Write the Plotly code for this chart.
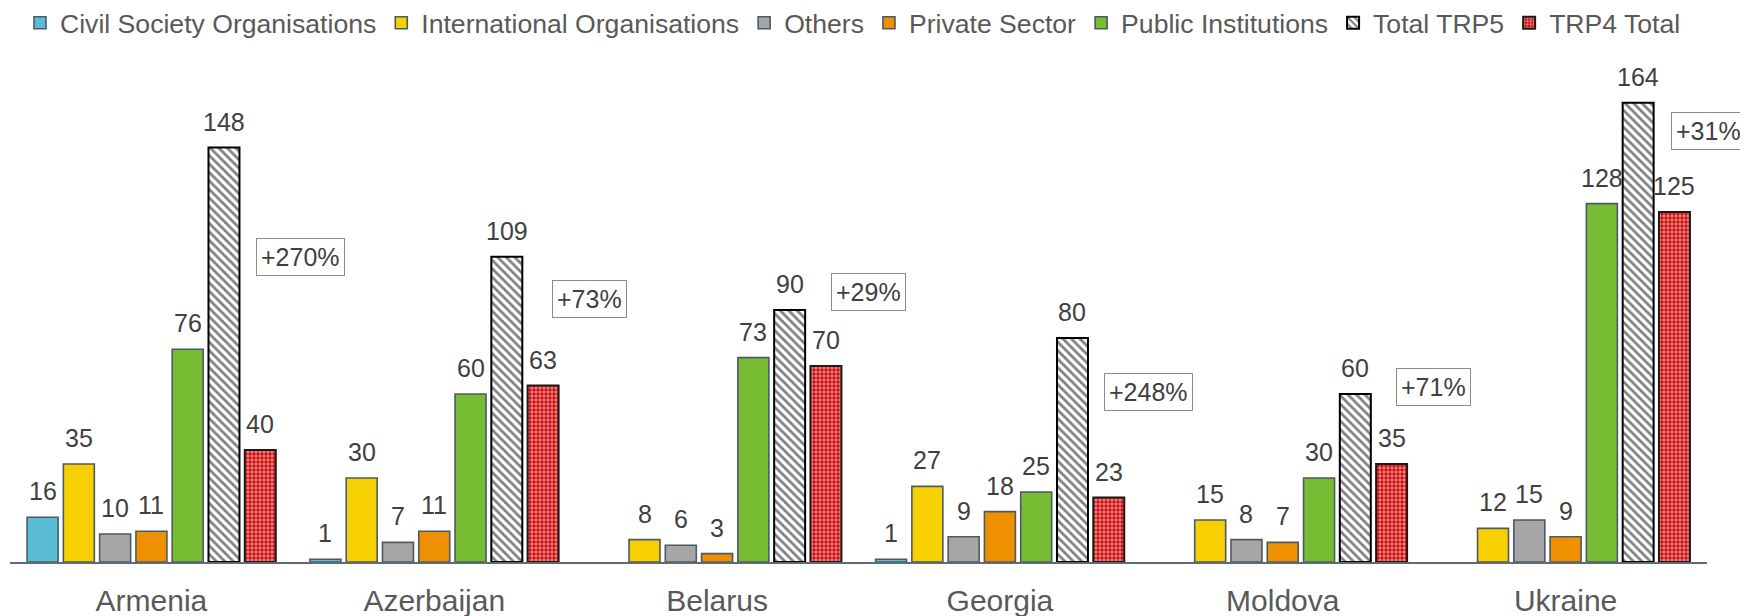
import plotly.graph_objects as go

# ---------------- data ----------------
countries = ["Armenia", "Azerbaijan", "Belarus", "Georgia", "Moldova", "Ukraine"]
series_names = ["Civil Society Organisations", "International Organisations", "Others",
                "Private Sector", "Public Institutions", "Total TRP5", "TRP4 Total"]
civil_society = [16, 1, None, 1, None, None]
international = [35, 30, 8, 27, 15, 12]
others = [10, 7, 6, 9, 8, 15]
private_sector = [11, 11, 3, 18, 7, 9]
public_inst = [76, 60, 73, 25, 30, 128]
total_trp5 = [148, 109, 90, 80, 60, 164]
trp4_total = [40, 63, 70, 23, 35, 125]
pct_labels = ["+270%", "+73%", "+29%", "+248%", "+71%", "+31%"]

series_values = [civil_society, international, others, private_sector,
                 public_inst, total_trp5, trp4_total]

# ---------------- layout / style ----------------
# the page body adds an 8px margin, so the figure origin sits at (8, 8) in the window
W, H = 1740, 608
ML, MR, MT, MB = 2, 41, 50, 54
BARGAP = 0.102
GROUPGAP = 0.146
YMAX = 180
FONT = "Liberation Sans, Arial, sans-serif"

fills = ["#5BBCD6", "#F6D000", "#A6A6A6", "#EE9000", "#77BC32", "white", "#D00000"]
line_cols = ["#4B5A66"] * 5 + ["#000000", "#1a1a1a"]
line_w = [1.6] * 5 + [2, 2]
patterns = [None] * 5 + [
    dict(shape="\\", fgcolor="#000000", bgcolor="white", size=6, solidity=0.45),
    dict(shape=".", fgcolor="white", bgcolor="#D00000", size=4, solidity=0.55),
]

# percentage box positions (layout only)
pct_dx = [149, 155, 151, 149, 151, 143]
pct_y = [109, 94, 96.4, 60.7, 62.5, 154]

fig = go.Figure()
for k, (name, vals) in enumerate(zip(series_names, series_values)):
    marker = dict(color=fills[k], line=dict(color=line_cols[k], width=line_w[k]))
    if patterns[k] is not None:
        marker["pattern"] = patterns[k]
    fig.add_trace(go.Bar(name=name, x=countries, y=vals, marker=marker,
                         hoverinfo="x+y+name"))

plot_w = W - ML - MR
cat_w = plot_w / len(countries)
slot = cat_w * (1 - BARGAP) / len(series_names)

annotations = []
for k, vals in enumerate(series_values):
    for c, v in zip(countries, vals):
        if v is None:
            continue
        annotations.append(dict(
            x=c, y=v, xref="x", yref="y", text=str(v), showarrow=False,
            yanchor="bottom", xanchor="center",
            xshift=(k - 3) * slot, yshift=10,
            font=dict(family=FONT, size=25, color="#404040"),
        ))

for c, lab, dx, yy in zip(countries, pct_labels, pct_dx, pct_y):
    annotations.append(dict(
        x=c, y=yy, xref="x", yref="y", text=lab, showarrow=False,
        xanchor="center", yanchor="middle", xshift=dx,
        bordercolor="#8C8C8C", borderwidth=1, borderpad=4, bgcolor="white",
        font=dict(family=FONT, size=25, color="#404040"),
    ))

fig.update_layout(
    width=W, height=H,
    margin=dict(l=ML, r=MR, t=MT, b=MB, autoexpand=False),
    paper_bgcolor="white", plot_bgcolor="white",
    barmode="group", bargap=BARGAP, bargroupgap=GROUPGAP,
    font=dict(family=FONT, color="#595959"),
    legend=dict(orientation="h", xref="container", yref="container",
                x=12 / W, y=1 - 15 / H, xanchor="left", yanchor="middle",
                font=dict(family=FONT, size=26.6, color="#595959"), traceorder="normal",
                itemclick=False),
    annotations=annotations,
    showlegend=True,
)
fig.update_xaxes(type="category", range=[-0.5, len(countries) - 0.5], autorange=False,
                 showline=True, linecolor="#5E6A74", linewidth=2, ticks="",
                 showgrid=False, tickfont=dict(family=FONT, size=30, color="#595959"),
                 ticklabelstandoff=11, automargin=False)
fig.update_yaxes(range=[0, YMAX], autorange=False, visible=False, showgrid=False,
                 automargin=False)

fig.write_html("out.html")
